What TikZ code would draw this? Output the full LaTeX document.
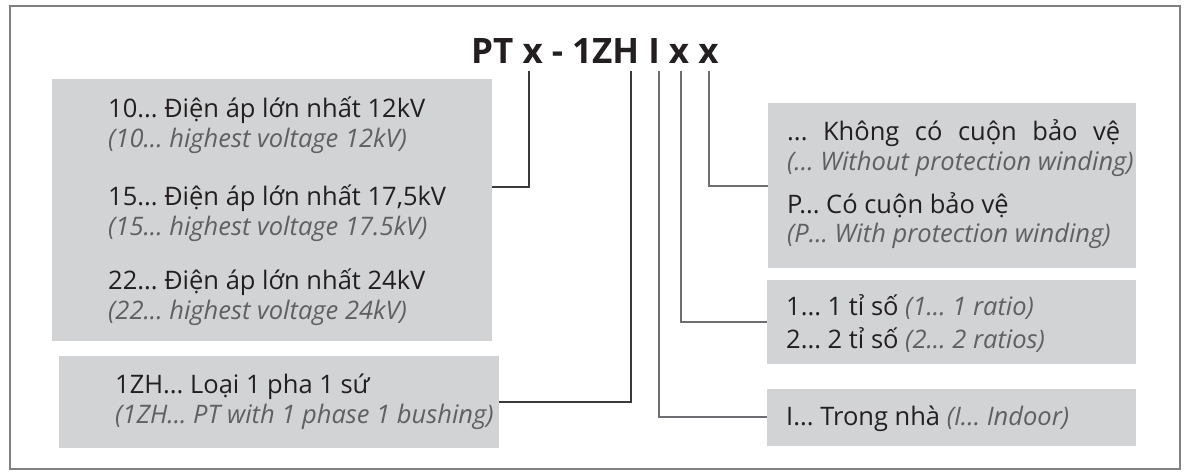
\documentclass[tikz,border=0pt]{standalone}
\usepackage{fontspec}
\setmainfont{Open Sans}
\definecolor{boxgray}{HTML}{D1D3D4}
\definecolor{txt}{HTML}{231F20}
\definecolor{itgray}{HTML}{5F6063}
\definecolor{linedark}{HTML}{3A3A3A}
\definecolor{linegray}{HTML}{6D6E71}
\definecolor{framegray}{HTML}{808080}
\tikzset{
  gbox/.style={fill=boxgray, draw=none, inner sep=0pt, anchor=north west},
  maintxt/.style={anchor=base west, inner sep=0pt, text=txt, font=\fontsize{25.5}{30}\selectfont},
  ittxt/.style={anchor=base west, inner sep=0pt, text=itgray, font=\fontsize{25.5}{30}\selectfont\itshape},
  conn/.style={draw=linegray, line width=1.3pt},
  conndark/.style={draw=linedark, line width=1.3pt},
}
\newcommand{\gi}[1]{{\color{itgray}\itshape #1}}
\frenchspacing
\begin{document}
\begin{tikzpicture}[x=1pt,y=-1pt]
\useasboundingbox (0,0) rectangle (1184,472);
\draw[framegray, line width=1.5pt] (10,6) rectangle (1180,469);

% title
\node[anchor=base west, inner sep=0pt, text=txt, font=\fontsize{35}{40}\selectfont\bfseries] (title) at (471,63) {PT x - 1ZH I x x};
\coordinate (t1) at (529,71);
\coordinate (t2) at (631,71);
\coordinate (t3) at (659,71);
\coordinate (t4) at (681,71);
\coordinate (t5) at (709,71);

% boxes
\node[gbox, minimum width=440pt, minimum height=262pt] (boxA) at (52,79) {};
\node[gbox, minimum width=440pt, minimum height=92pt] (boxB) at (59,356) {};
\node[gbox, minimum width=368pt, minimum height=165pt] (boxC) at (768,103) {};
\node[gbox, minimum width=369pt, minimum height=84pt] (boxD) at (767,280) {};
\node[gbox, minimum width=369pt, minimum height=57pt] (boxE) at (767,389) {};

% box A texts
\node[maintxt] (a1) at (108,117) {10... Điện áp lớn nhất 12kV};
\node[ittxt] (a2) at (108,147) {(10... highest voltage 12kV)};
\node[maintxt] (a3) at (108,205) {15... Điện áp lớn nhất 17,5kV};
\node[ittxt] (a4) at (108,235) {(15... highest voltage 17.5kV)};
\node[maintxt] (a5) at (108,289) {22... Điện áp lớn nhất 24kV};
\node[ittxt] (a6) at (108,319) {(22... highest voltage 24kV)};

% box B texts
\node[maintxt] (b1) at (115,393) {1ZH... Loại 1 pha 1 sứ};
\node[ittxt] (b2) at (115,423) {(1ZH... PT with 1 phase 1 bushing)};

% box C texts
\node[maintxt] (c1) at (787,140) {\makebox[333pt][s]{... Không có cuộn bảo vệ}};
\node[ittxt] (c2) at (787,170) {(... Without protection winding)};
\node[maintxt] (c3) at (787,213) {P... Có cuộn bảo vệ};
\node[ittxt] (c4) at (787,242) {(P... With protection winding)};

% box D texts
\node[maintxt] (d1) at (786,315) {1... 1 tỉ số \gi{(1... 1 ratio)}};
\node[maintxt] (d2) at (786,348) {2... 2 tỉ số \gi{(2... 2 ratios)}};

% box E text
\node[maintxt] (e1) at (786,425) {I... Trong nhà \gi{(I... Indoor)}};

% connector end points on box edges
\coordinate (eA) at (boxA.east |- 0,187);
\coordinate (eB) at (boxB.east |- 0,402);
\coordinate (eE) at (boxE.west |- 0,417);
\coordinate (eD) at (boxD.west |- 0,322);
\coordinate (eC) at (boxC.west |- 0,186);

\draw[conndark] (t1) |- (eA);
\draw[conndark] (t2) |- (eB);
\draw[conn] (t3) |- (eE);
\draw[conn] (t4) |- (eD);
\draw[conn] (t5) |- (eC);
\end{tikzpicture}
\end{document}
